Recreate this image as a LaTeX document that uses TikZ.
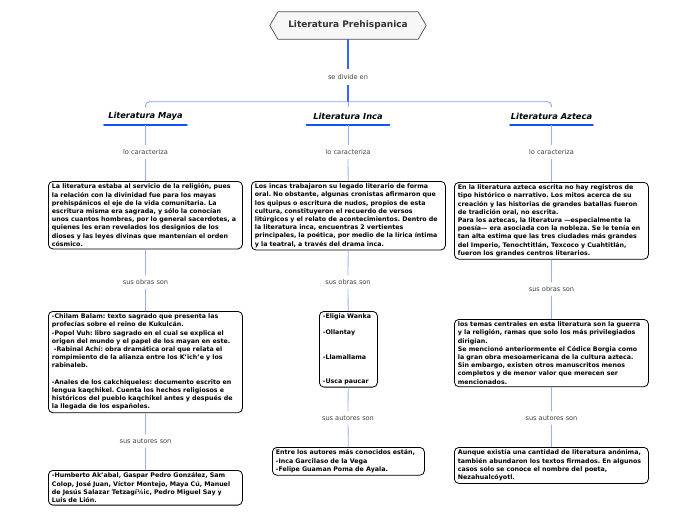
\documentclass[tikz,border=0pt]{standalone}
\usepackage{fontspec}
\setmainfont{DejaVu Sans}
\frenchspacing
\begin{document}
\begin{tikzpicture}[x=1pt,y=-1pt,
  box/.style={draw=black, line width=0.8pt, rounded corners=4.5pt, fill=white,
    anchor=north west, align=left, inner xsep=3.5pt, inner ysep=2.5pt,
    font=\bfseries\fontsize{6.3}{8.2}\selectfont},
  lbl/.style={font=\fontsize{6.6}{8}\selectfont, text=black!75, inner xsep=2pt, inner ysep=4pt},
  mainlbl/.style={lbl, inner ysep=5pt},
  branch/.style={font=\bfseries\itshape\fontsize{8.3}{10}\selectfont, minimum width=82pt,
    minimum height=17.5pt, inner sep=0pt},
  uline/.style={line width=2.6pt, line cap=round, draw={rgb,255:red,20;green,80;blue,255}},
  mainconn/.style={draw={rgb,255:red,50;green,100;blue,255}, line width=1.1pt},
  hconn/.style={draw={rgb,255:red,130;green,160;blue,255}, line width=0.8pt, rounded corners=4pt},
  sub/.style={draw={rgb,255:red,150;green,175;blue,255}, line width=0.8pt}
]
\useasboundingbox (0,0) rectangle (696,520);

% title
\node[minimum width=156pt, minimum height=27pt, inner sep=0pt] (tt) at (348,25.5) {};
\draw[draw=black!70, fill=black!3, line width=0.7pt]
  (tt.west) -- ([xshift=8pt]tt.north west) -- ([xshift=-8pt]tt.north east) -- (tt.east)
  -- ([xshift=-8pt]tt.south east) -- ([xshift=8pt]tt.south west) -- cycle;
\node[font=\bfseries\fontsize{9}{11}\selectfont, text=black!80] (ttx) at (tt.center) {Literatura Prehispanica};

\node[mainlbl] (sdv) at (348,77) {se divide en};
\coordinate (split) at (348,101.7);

% branches
\node[branch] (maya) at (145.5,116) {Literatura Maya};
\node[branch] (inca) at (348,116) {Literatura Inca};
\node[branch] (azteca) at (551.5,116) {Literatura Azteca};
\foreach \n in {maya,inca,azteca} {\draw[uline] (\n.south west) -- (\n.south east);}

\draw[mainconn] (tt.south) -- (sdv);
\draw[mainconn] (sdv) -- (split);
\draw[sub] (split) -- (inca.north);
\draw[hconn] (maya.north) |- (split) -| (azteca.north);

% labels
\node[lbl] (lc1) at (145.5,152) {lo caracteriza};
\node[lbl] (lc2) at (348,152) {lo caracteriza};
\node[lbl] (lc3) at (551.5,152) {lo caracteriza};
\node[lbl] (so1) at (145.5,282) {sus obras son};
\node[lbl] (so2) at (348,282) {sus obras son};
\node[lbl] (so3) at (551.5,289) {sus obras son};
\node[lbl] (sa1) at (145.5,441) {sus autores son};
\node[lbl] (sa2) at (348,418) {sus autores son};
\node[lbl] (sa3) at (551.5,418) {sus autores son};

% Maya boxes
\node[box, text width=187pt] (mb1) at (48,181) {La literatura estaba al servicio de la religión, pues\\
la relación con la divinidad fue para los mayas\\
prehispánicos el eje de la vida comunitaria. La\\
escritura misma era sagrada, y sólo la conocían\\
unos cuantos hombres, por lo general sacerdotes, a\\
quienes les eran revelados los designios de los\\
dioses y las leyes divinas que mantenían el orden\\
cósmico.};
\node[box, text width=187pt] (mb2) at (48,311) {-Chilam Balam: texto sagrado que presenta las\\
profecías sobre el reino de Kukulcán.\\
-Popol Vuh: libro sagrado en el cual se explica el\\
origen del mundo y el papel de los mayan en este.\\
\hspace*{2pt}-Rabinal Achí: obra dramática oral que relata el\\
rompimiento de la alianza entre los K'ich'e y los\\
rabinaleb.\\[8.2pt]
-Anales de los cakchiqueles: documento escrito en\\
lengua kaqchikel. Cuenta los hechos religiosos e\\
históricos del pueblo kaqchikel antes y después de\\
la llegada de los españoles.};
\node[box, text width=187pt] (mb3) at (48,470) {-Humberto Ak'abal, Gaspar Pedro González, Sam\\
Colop, José Juan, Víctor Montejo, Maya Cú, Manuel\\
de Jesús Salazar Tetzagí¼ic, Pedro Miguel Say y\\
Luis de Lión.};

% Inca boxes
\node[box, text width=187pt] (ib1) at (251,181) {Los incas trabajaron su legado literario de forma\\
oral. No obstante, algunas cronistas afirmaron que\\
los quipus o escritura de nudos, propios de esta\\
cultura, constituyeron el recuerdo de versos\\
litúrgicos y el relato de acontecimientos. Dentro de\\
la literatura inca, encuentras 2 vertientes\\
principales, la poética, por medio de la lírica íntima\\
y la teatral, a través del drama inca.};
\node[box, text width=51pt] (ib2) at (319,311) {-Eligia Wanka\\[8pt]
-Ollantay\\[16pt]
-Llamallama\\[16pt]
-Usca paucar};
\node[box, text width=145pt] (ib3) at (272,447) {Entre los autores más conocidos están,\\
-Inca Garcilaso de la Vega\\
-Felipe Guaman Poma de Ayala.};

% Azteca boxes
\node[box, text width=187pt] (ab1) at (454,182) {En la literatura azteca escrita no hay registros de\\
tipo histórico o narrativo. Los mitos acerca de su\\
creación y las historias de grandes batallas fueron\\
de tradición oral, no escrita.\\
Para los aztecas, la literatura —especialmente la\\
poesía— era asociada con la nobleza. Se le tenía en\\
tan alta estima que las tres ciudades más grandes\\
del Imperio, Tenochtitlán, Texcoco y Cuahtitlán,\\
fueron los grandes centros literarios.};
\node[box, text width=187pt] (ab2) at (454,319) {los temas centrales en esta literatura son la guerra\\
y la religión, ramas que solo los más privilegiados\\
dirigían.\\
Se mencionó anteriormente el Códice Borgia como\\
la gran obra mesoamericana de la cultura azteca.\\
Sin embargo, existen otros manuscritos menos\\
completos y de menor valor que merecen ser\\
mencionados.};
\node[box, text width=187pt] (ab3) at (454,447) {Aunque existía una cantidad de literatura anónima,\\
también abundaron los textos firmados. En algunos\\
casos solo se conoce el nombre del poeta,\\
Nezahualcóyotl.};

% connectors
\draw[sub] (maya.south) -- (lc1); \draw[sub] (lc1) -- (mb1);
\draw[sub] (mb1) -- (so1); \draw[sub] (so1) -- (mb2);
\draw[sub] (mb2) -- (sa1); \draw[sub] (sa1) -- (mb3);
\draw[sub] (inca.south) -- (lc2); \draw[sub] (lc2) -- (ib1);
\draw[sub] (ib1) -- (so2); \draw[sub] (so2) -- (ib2);
\draw[sub] (ib2) -- (sa2); \draw[sub] (sa2) -- (ib3);
\draw[sub] (azteca.south) -- (lc3); \draw[sub] (lc3) -- (ab1);
\draw[sub] (ab1) -- (so3); \draw[sub] (so3) -- (ab2);
\draw[sub] (ab2) -- (sa3); \draw[sub] (sa3) -- (ab3);
\end{tikzpicture}
\end{document}
